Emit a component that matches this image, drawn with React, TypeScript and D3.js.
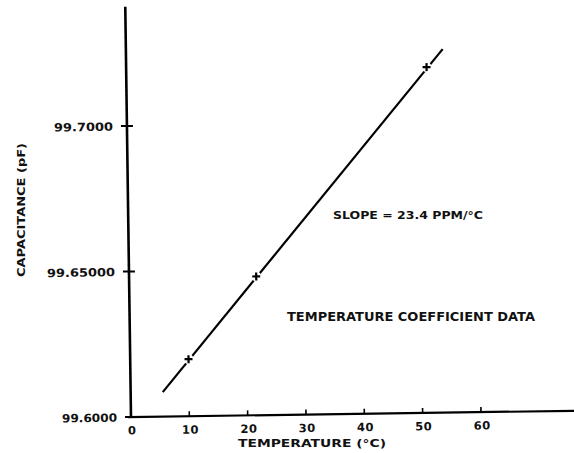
import React from "react";
import { scaleLinear, line } from "d3";

// measured points (temperature °C, capacitance pF)
const tempC = [10.0, 21.8, 51.5];
const capPf = [99.6196, 99.6477, 99.7188];
// ends of the fitted straight line
const fitTemp = [5.5, 54.3];
const fitCap = [99.6084, 99.7249];

const xTicks = [0, 10, 20, 30, 40, 50, 60];
const yTicks = [99.6, 99.65, 99.7];
const yTickLabels = ["99.6000", "99.65000", "99.7000"];
const yTickLabelWidths = [55, 68, 59];

const W = 574;
const H = 453;
const ox = 131;
const oy = 417;
const tilt = -0.8; // the page was scanned a little crooked

const font = "'DejaVu Sans', sans-serif";

export default function App() {
  const x = scaleLinear().domain([0, 60]).range([ox, ox + 350]);
  const y = scaleLinear().domain([99.6, 99.7]).range([oy, 126]);

  const fit = fitTemp.map((t, i) => [t, fitCap[i]] as [number, number]);
  const path = line<[number, number]>()
    .x((d) => x(d[0]))
    .y((d) => y(d[1]));

  const pts = tempC.map((t, i) => ({ t, c: capPf[i] }));

  return (
    <svg
      width={W}
      height={H}
      viewBox={`0 0 ${W} ${H}`}
      style={{ position: "absolute", left: 0, top: 0, background: "#fff" }}
    >
      <rect width={W} height={H} fill="#fff" />
      <g transform={`rotate(${tilt}, ${ox}, ${oy})`}>
        {/* y axis */}
        <line x1={x(0)} x2={x(0)} y1={y(99.6)} y2={y(99.741)} stroke="#000" strokeWidth={2.6} />
        {/* x axis */}
        <line x1={x(0) - 3} x2={x(76)} y1={y(99.6)} y2={y(99.6)} stroke="#000" strokeWidth={2.2} />
        {yTicks.map((v, i) => (
          <g key={v}>
            <line
              x1={x(0) - 6}
              x2={i === 0 ? x(0) : x(0) + 6}
              y1={y(v)}
              y2={y(v)}
              stroke="#000"
              strokeWidth={2}
            />
            <text
              x={x(0) - 14}
              y={y(v) + 4.5}
              textAnchor="end"
              fontFamily={font}
              fontWeight="bold"
              fontSize={11.5}
              textLength={yTickLabelWidths[i]}
              lengthAdjust="spacingAndGlyphs"
              fill="#111"
            >
              {yTickLabels[i]}
            </text>
          </g>
        ))}
        {xTicks.map((v) => (
          <g key={v}>
            {v > 0 && (
              <line x1={x(v)} x2={x(v)} y1={y(99.6)} y2={y(99.6) - 5} stroke="#000" strokeWidth={1.6} />
            )}
            <text
              x={x(v) + 1}
              y={y(99.6) + 17.5}
              textAnchor="middle"
              fontFamily={font}
              fontWeight="bold"
              fontSize={11.5}
              letterSpacing={0.5}
              fill="#111"
            >
              {v}
            </text>
          </g>
        ))}
        {/* fitted line, broken where the points sit */}
        <path d={path(fit) || ""} fill="none" stroke="#000" strokeWidth={2.2} />
        {pts.map((p, i) => (
          <circle key={"m" + i} cx={x(p.t)} cy={y(p.c)} r={5} fill="#fff" />
        ))}
        {pts.map((p, i) => (
          <g key={"p" + i} stroke="#000" strokeWidth={2.2}>
            <line x1={x(p.t) - 4} x2={x(p.t) + 4} y1={y(p.c)} y2={y(p.c)} />
            <line x1={x(p.t)} x2={x(p.t)} y1={y(p.c) - 4} y2={y(p.c) + 4} />
          </g>
        ))}
      </g>
      <text
        transform="translate(25,210) rotate(-90)"
        textAnchor="middle"
        fontFamily={font}
        fontWeight="bold"
        fontSize={11}
        textLength={134}
        lengthAdjust="spacingAndGlyphs"
        fill="#111"
      >
        CAPACITANCE (pF)
      </text>
      <text
        x={238}
        y={447}
        fontFamily={font}
        fontWeight="bold"
        fontSize={11}
        textLength={148}
        lengthAdjust="spacingAndGlyphs"
        fill="#111"
      >
        TEMPERATURE (°C)
      </text>
      <text
        x={333}
        y={219}
        fontFamily={font}
        fontWeight="bold"
        fontSize={10}
        textLength={150}
        lengthAdjust="spacingAndGlyphs"
        fill="#111"
      >
        SLOPE = 23.4 PPM/°C
      </text>
      <text
        x={287}
        y={321}
        fontFamily={font}
        fontWeight="bold"
        fontSize={11.5}
        textLength={248}
        lengthAdjust="spacingAndGlyphs"
        fill="#111"
      >
        TEMPERATURE COEFFICIENT DATA
      </text>
    </svg>
  );
}
